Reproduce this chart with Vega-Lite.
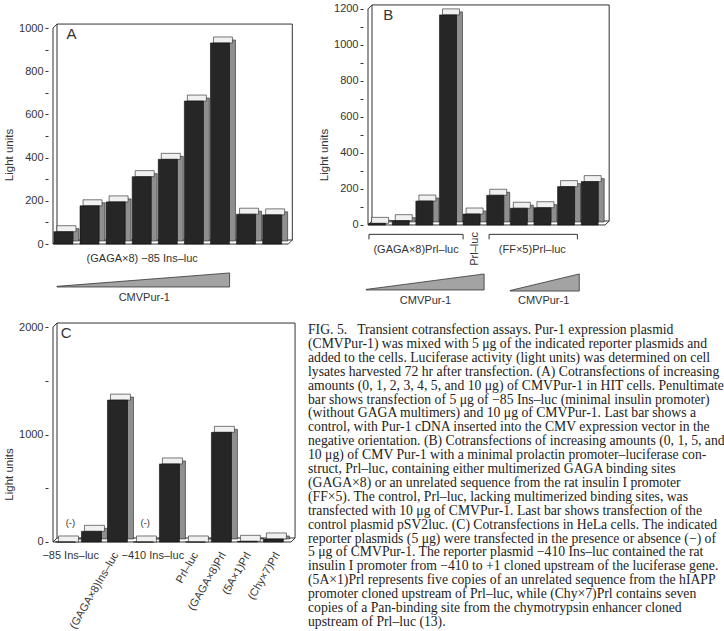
{
  "$schema": "https://vega.github.io/schema/vega-lite/v6.json",
  "background": "white",
  "padding": {"left": 3, "top": 2, "right": 0, "bottom": 0},
  "config": {
    "font": "Liberation Sans",
    "view": {"stroke": null},
    "axis": {"labelFont": "Liberation Sans", "labelFontSize": 11, "labelColor": "#333", "titleFont": "Liberation Sans", "titleFontSize": 11.5, "titleFontWeight": "normal", "titleColor": "#333", "tickColor": "#333", "tickSize": 3, "grid": false, "domain": false, "labelPadding": 2, "titlePadding": 4},
    "text": {"font": "Liberation Sans", "fontSize": 11, "fill": "#333"}
  },
  "spacing": 12,
  "vconcat": [
    {
      "spacing": 20,
      "hconcat": [
        {
          "width": 250, "height": 303,
          "encoding": {
            "x": {"field": "x", "type": "quantitative", "scale": {"domain": [0.6, 9.8], "nice": false, "zero": false}, "axis": null},
            "y": {"field": "y", "type": "quantitative", "scale": {"domain": [-287, 1116], "nice": false, "zero": false},
              "axis": {"title": "Light units", "values": [0, 100, 200, 300, 400, 500, 600, 700, 800, 900, 1000], "format": "d", "labelExpr": "datum.value % 200 === 0 ? datum.label : ''"}}
          },
          "layer": [
            {"data": {"values": [{"x": 0.6, "x2": 9.62, "y": 0, "y2": 1000}]},
             "mark": {"type": "rect", "filled": false, "color": "#333", "strokeWidth": 1, "xOffset": 4, "x2Offset": 4, "yOffset": -4, "y2Offset": -4},
             "encoding": {"x2": {"field": "x2"}, "y2": {"field": "y2"}}},
            {"data": {"values": [{"x": 0.6, "y": 0, "y2": 1000}]},
             "mark": {"type": "rule", "color": "#333", "strokeWidth": 1},
             "encoding": {"y2": {"field": "y2"}}},
            {"data": {"values": [{"x": 0.6, "x2": 9.62, "y": 0}]},
             "mark": {"type": "rule", "color": "#333", "strokeWidth": 1},
             "encoding": {"x2": {"field": "x2"}}},
            {"data": {"values": [{"x": 0.6, "y": 1000}, {"x": 0.6, "y": 0}, {"x": 9.62, "y": 0}]},
             "mark": {"type": "rule", "color": "#333", "strokeWidth": 1, "x2Offset": 4, "y2Offset": -4},
             "encoding": {"x2": {"field": "x"}, "y2": {"field": "y"}}},
            {"data": {"name": "barsA"},
             "mark": {"type": "bar", "orient": "vertical", "width": 6, "xOffset": 12.5, "yOffset": -3, "y2Offset": -3, "fill": "#8f8f8f", "stroke": "#222", "strokeWidth": 0.6},
             "encoding": {"y2": {"datum": 0}}},
            {"data": {"name": "barsA"},
             "mark": {"type": "tick", "orient": "horizontal", "size": 19, "thickness": 6, "xOffset": 3, "yOffset": -3, "fill": "#f0f0f0", "stroke": "#222", "strokeWidth": 0.6, "opacity": 1}},
            {"data": {"name": "barsA"},
             "mark": {"type": "bar", "orient": "vertical", "width": 19, "fill": "#262626", "stroke": "#111", "strokeWidth": 0.6},
             "encoding": {"y2": {"datum": 0}}},
            {"data": {"values": [{"x": 0.75, "y": -199, "y2": -196}, {"x": 7.37, "y": -199, "y2": -134}]},
             "mark": {"type": "area", "orient": "vertical", "fill": "#a3a3a3", "stroke": "#333", "strokeWidth": 0.8, "opacity": 1},
             "encoding": {"y2": {"field": "y2"}}},
            {"data": {"values": [{"x": 1.12, "y": 972, "t": "A"}]},
             "mark": {"type": "text", "align": "left", "baseline": "middle", "fontSize": 15},
             "encoding": {"text": {"field": "t"}}},
            {"data": {"values": [{"x": 4.02, "y": -69, "t": "(GAGA×8) −85 Ins–luc"}, {"x": 4.1, "y": -250, "t": "CMVPur-1"}]},
             "mark": {"type": "text", "align": "center", "baseline": "middle", "fontSize": 11},
             "encoding": {"text": {"field": "t"}}}
          ]
        },
        {
          "width": 252, "height": 303,
          "encoding": {
            "x": {"field": "x", "type": "quantitative", "scale": {"domain": [0.614, 10.86], "nice": false, "zero": false}, "axis": null},
            "y": {"field": "y", "type": "quantitative", "scale": {"domain": [-450, 1233], "nice": false, "zero": false},
              "axis": {"title": "Light units", "values": [0, 100, 200, 300, 400, 500, 600, 700, 800, 900, 1000, 1100, 1200], "format": "d", "labelExpr": "datum.value % 200 === 0 ? datum.label : ''"}}
          },
          "layer": [
            {"data": {"values": [{"x": 0.614, "x2": 10.655, "y": 0, "y2": 1200}]},
             "mark": {"type": "rect", "filled": false, "color": "#333", "strokeWidth": 1, "xOffset": 4, "x2Offset": 4, "yOffset": -4, "y2Offset": -4},
             "encoding": {"x2": {"field": "x2"}, "y2": {"field": "y2"}}},
            {"data": {"values": [{"x": 0.614, "y": 0, "y2": 1200}]},
             "mark": {"type": "rule", "color": "#333", "strokeWidth": 1},
             "encoding": {"y2": {"field": "y2"}}},
            {"data": {"values": [{"x": 0.614, "x2": 10.655, "y": 0}]},
             "mark": {"type": "rule", "color": "#333", "strokeWidth": 1},
             "encoding": {"x2": {"field": "x2"}}},
            {"data": {"values": [{"x": 0.614, "y": 1200}, {"x": 0.614, "y": 0}, {"x": 10.655, "y": 0}]},
             "mark": {"type": "rule", "color": "#333", "strokeWidth": 1, "x2Offset": 4, "y2Offset": -4},
             "encoding": {"x2": {"field": "x"}, "y2": {"field": "y"}}},
            {"data": {"name": "barsB"},
             "mark": {"type": "bar", "orient": "vertical", "width": 6, "xOffset": 11.5, "yOffset": -3, "y2Offset": -3, "fill": "#8f8f8f", "stroke": "#222", "strokeWidth": 0.6},
             "encoding": {"y2": {"datum": 0}}},
            {"data": {"name": "barsB"},
             "mark": {"type": "tick", "orient": "horizontal", "size": 17, "thickness": 6, "xOffset": 3, "yOffset": -3, "fill": "#f0f0f0", "stroke": "#222", "strokeWidth": 0.6, "opacity": 1}},
            {"data": {"name": "barsB"},
             "mark": {"type": "bar", "orient": "vertical", "width": 17, "fill": "#262626", "stroke": "#111", "strokeWidth": 0.6},
             "encoding": {"y2": {"datum": 0}}},
            {"data": {"values": [{"g": 1, "x": 0.53, "y": -361, "y2": -358}, {"g": 1, "x": 5.53, "y": -361, "y2": -272}, {"g": 2, "x": 6.63, "y": -367, "y2": -364}, {"g": 2, "x": 9.56, "y": -367, "y2": -272}]},
             "mark": {"type": "area", "orient": "vertical", "fill": "#a3a3a3", "stroke": "#333", "strokeWidth": 0.8, "opacity": 1},
             "encoding": {"y2": {"field": "y2"}, "detail": {"field": "g"}}},
            {"data": {"values": [
              {"g": 1, "i": 1, "x": 0.655, "y": -80}, {"g": 1, "i": 2, "x": 0.655, "y": -52}, {"g": 1, "i": 3, "x": 4.64, "y": -52}, {"g": 1, "i": 4, "x": 4.64, "y": -80},
              {"g": 2, "i": 1, "x": 5.74, "y": -80}, {"g": 2, "i": 2, "x": 5.74, "y": -52}, {"g": 2, "i": 3, "x": 9.48, "y": -52}, {"g": 2, "i": 4, "x": 9.48, "y": -80}]},
             "mark": {"type": "line", "color": "#333", "strokeWidth": 1},
             "encoding": {"detail": {"field": "g"}, "order": {"field": "i"}}},
            {"data": {"values": [{"x": 1.264, "y": 1169, "t": "B"}]},
             "mark": {"type": "text", "align": "left", "baseline": "middle", "fontSize": 15},
             "encoding": {"text": {"field": "t"}}},
            {"data": {"values": [{"x": 2.65, "y": -139, "t": "(GAGA×8)Prl–luc"}, {"x": 7.57, "y": -139, "t": "(FF×5)Prl–luc"}, {"x": 3.05, "y": -422, "t": "CMVPur-1"}, {"x": 8.05, "y": -422, "t": "CMVPur-1"}]},
             "mark": {"type": "text", "align": "center", "baseline": "middle", "fontSize": 11},
             "encoding": {"text": {"field": "t"}}},
            {"data": {"values": [{"x": 5.13, "y": -133, "t": "Prl–luc"}]},
             "mark": {"type": "text", "align": "center", "baseline": "middle", "fontSize": 11, "angle": 270},
             "encoding": {"text": {"field": "t"}}}
          ]
        }
      ]
    },
    {
      "spacing": 7,
      "hconcat": [
        {
          "width": 253, "height": 312,
          "encoding": {
            "x": {"field": "x", "type": "quantitative", "scale": {"domain": [0.52, 9.87], "nice": false, "zero": false}, "axis": null},
            "y": {"field": "y", "type": "quantitative", "scale": {"domain": [-819, 2084], "nice": false, "zero": false},
              "axis": {"title": "Light units", "values": [0, 500, 1000, 1500, 2000], "format": "d", "labelExpr": "datum.value % 1000 === 0 ? datum.label : ''"}}
          },
          "layer": [
            {"data": {"values": [{"x": 0.52, "x2": 9.68, "y": 0, "y2": 2000}]},
             "mark": {"type": "rect", "filled": false, "color": "#333", "strokeWidth": 1, "xOffset": 4, "x2Offset": 4, "yOffset": -4, "y2Offset": -4},
             "encoding": {"x2": {"field": "x2"}, "y2": {"field": "y2"}}},
            {"data": {"values": [{"x": 0.52, "y": 0, "y2": 2000}]},
             "mark": {"type": "rule", "color": "#333", "strokeWidth": 1},
             "encoding": {"y2": {"field": "y2"}}},
            {"data": {"values": [{"x": 0.52, "x2": 9.68, "y": 0}]},
             "mark": {"type": "rule", "color": "#333", "strokeWidth": 1},
             "encoding": {"x2": {"field": "x2"}}},
            {"data": {"values": [{"x": 0.52, "y": 2000}, {"x": 0.52, "y": 0}, {"x": 9.68, "y": 0}]},
             "mark": {"type": "rule", "color": "#333", "strokeWidth": 1, "x2Offset": 4, "y2Offset": -4},
             "encoding": {"x2": {"field": "x"}, "y2": {"field": "y"}}},
            {"data": {"name": "barsC"},
             "mark": {"type": "bar", "orient": "vertical", "width": 6, "xOffset": 13, "yOffset": -3, "y2Offset": -3, "fill": "#8f8f8f", "stroke": "#222", "strokeWidth": 0.6},
             "encoding": {"y2": {"datum": 0}}},
            {"data": {"name": "barsC"},
             "mark": {"type": "tick", "orient": "horizontal", "size": 20, "thickness": 6, "xOffset": 3, "yOffset": -3, "fill": "#f0f0f0", "stroke": "#222", "strokeWidth": 0.6, "opacity": 1}},
            {"data": {"name": "barsC"},
             "mark": {"type": "bar", "orient": "vertical", "width": 20, "fill": "#262626", "stroke": "#111", "strokeWidth": 0.6},
             "encoding": {"y2": {"datum": 0}}},
            {"data": {"values": [{"x": 0.82, "y": 1944, "t": "C"}]},
             "mark": {"type": "text", "align": "left", "baseline": "middle", "fontSize": 15},
             "encoding": {"text": {"field": "t"}}},
            {"data": {"values": [{"x": 1.19, "y": 177, "t": "(-)"}, {"x": 4.07, "y": 177, "t": "(-)"}]},
             "mark": {"type": "text", "align": "center", "baseline": "middle", "fontSize": 9.5},
             "encoding": {"text": {"field": "t"}}},
            {"data": {"values": [{"x": 1.2, "y": -130, "t": "−85 Ins–luc"}, {"x": 4.36, "y": -130, "t": "−410 Ins–luc"}]},
             "mark": {"type": "text", "align": "center", "baseline": "middle", "fontSize": 11},
             "encoding": {"text": {"field": "t"}}},
            {"data": {"values": [{"x": 2.95, "y": -105, "t": "(GAGA×8)Ins–luc"}, {"x": 6.02, "y": -105, "t": "Prl–luc"}, {"x": 7.09, "y": -105, "t": "(GAGA×8)Prl"}, {"x": 8.05, "y": -105, "t": "(5A×1)Prl"}, {"x": 9.16, "y": -105, "t": "(Chy×7)Prl"}]},
             "mark": {"type": "text", "align": "right", "baseline": "middle", "fontSize": 11, "angle": 300},
             "encoding": {"text": {"field": "t"}}}
          ]
        },
        {
          "width": 417, "height": 312,
          "data": {"values": [
            {"n": 1, "t": "\u2003FIG. 5.\u2002 Transient cotransfection assays. Pur-1 expression plasmid"},
            {"n": 2, "t": "(CMVPur-1) was mixed with 5 μg of the indicated reporter plasmids and"},
            {"n": 3, "t": "added to the cells. Luciferase activity (light units) was determined on cell"},
            {"n": 4, "t": "lysates harvested 72 hr after transfection. (A) Cotransfections of increasing"},
            {"n": 5, "t": "amounts (0, 1, 2, 3, 4, 5, and 10 μg) of CMVPur-1 in HIT cells. Penultimate"},
            {"n": 6, "t": "bar shows transfection of 5 μg of −85 Ins–luc (minimal insulin promoter)"},
            {"n": 7, "t": "(without GAGA multimers) and 10 μg of CMVPur-1. Last bar shows a"},
            {"n": 8, "t": "control, with Pur-1 cDNA inserted into the CMV expression vector in the"},
            {"n": 9, "t": "negative orientation. (B) Cotransfections of increasing amounts (0, 1, 5, and"},
            {"n": 10, "t": "10 μg) of CMV Pur-1 with a minimal prolactin promoter–luciferase con-"},
            {"n": 11, "t": "struct, Prl–luc, containing either multimerized GAGA binding sites"},
            {"n": 12, "t": "(GAGA×8) or an unrelated sequence from the rat insulin I promoter"},
            {"n": 13, "t": "(FF×5). The control, Prl–luc, lacking multimerized binding sites, was"},
            {"n": 14, "t": "transfected with 10 μg of CMVPur-1. Last bar shows transfection of the"},
            {"n": 15, "t": "control plasmid pSV2luc. (C) Cotransfections in HeLa cells. The indicated"},
            {"n": 16, "t": "reporter plasmids (5 μg) were transfected in the presence or absence (−) of"},
            {"n": 17, "t": "5 μg of CMVPur-1. The reporter plasmid −410 Ins–luc contained the rat"},
            {"n": 18, "t": "insulin I promoter from −410 to +1 cloned upstream of the luciferase gene."},
            {"n": 19, "t": "(5A×1)Prl represents five copies of an unrelated sequence from the hIAPP"},
            {"n": 20, "t": "promoter cloned upstream of Prl–luc, while (Chy×7)Prl contains seven"},
            {"n": 21, "t": "copies of a Pan-binding site from the chymotrypsin enhancer cloned"},
            {"n": 22, "t": "upstream of Prl–luc (13)."}
          ]},
          "mark": {"type": "text", "align": "left", "baseline": "middle", "font": "Liberation Serif", "fontSize": 13.7, "fill": "#222"},
          "encoding": {
            "x": {"datum": 0, "type": "quantitative", "scale": {"domain": [0, 1]}, "axis": null},
            "y": {"field": "n", "type": "quantitative", "scale": {"domain": [0.137, 22.58], "reverse": true, "nice": false, "zero": false}, "axis": null},
            "text": {"field": "t"}
          }
        }
      ]
    }
  ],
  "datasets": {
    "barsA": [{"x": 1, "y": 57}, {"x": 2, "y": 177}, {"x": 3, "y": 195}, {"x": 4, "y": 312}, {"x": 5, "y": 392}, {"x": 6, "y": 662}, {"x": 7, "y": 931}, {"x": 8, "y": 138}, {"x": 9, "y": 135}],
    "barsB": [{"x": 1, "y": 9}, {"x": 2, "y": 24}, {"x": 3, "y": 133}, {"x": 4, "y": 1167}, {"x": 5, "y": 61}, {"x": 6, "y": 165}, {"x": 7, "y": 93}, {"x": 8, "y": 96}, {"x": 9, "y": 213}, {"x": 10, "y": 241}],
    "barsC": [{"x": 1, "y": 0}, {"x": 2, "y": 99}, {"x": 3, "y": 1320}, {"x": 4, "y": 0}, {"x": 5, "y": 726}, {"x": 6, "y": 0}, {"x": 7, "y": 1020}, {"x": 8, "y": 6}, {"x": 9, "y": 28}]
  }
}
